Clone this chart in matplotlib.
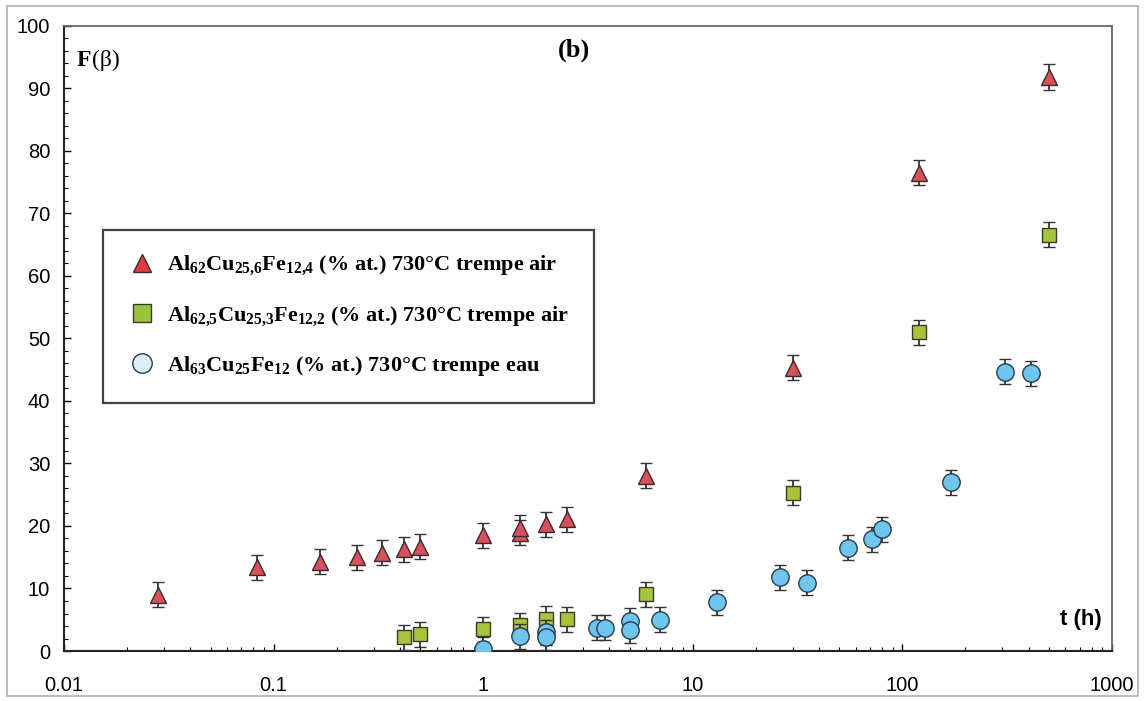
import matplotlib
matplotlib.use("Agg")
import matplotlib.pyplot as plt
from matplotlib.lines import Line2D
from matplotlib.patches import Rectangle
from matplotlib.ticker import FixedLocator, MultipleLocator, LogLocator, NullFormatter

plt.rcParams['font.family'] = ['Liberation Sans', 'DejaVu Sans']
plt.rcParams['mathtext.fontset'] = 'custom'
plt.rcParams['mathtext.rm'] = 'Liberation Serif:bold'
plt.rcParams['mathtext.it'] = 'Liberation Serif:bold'
plt.rcParams['mathtext.bf'] = 'Liberation Serif:bold'

# Al62Cu25.6Fe12.4, air quench
t_tri = [0.028, 0.083, 0.167, 0.25, 0.33, 0.42, 0.5, 1.0, 1.5, 1.5, 2.0, 2.5, 6.0, 30, 120, 500]
f_tri = [9.0, 13.4, 14.3, 15.0, 15.7, 16.3, 16.7, 18.5, 18.9, 19.7, 20.3, 21.1, 28.0, 45.3, 76.5, 91.8]
e_tri = [2.0] * len(t_tri)

# Al62.5Cu25.3Fe12.2, air quench
t_sq = [0.42, 0.5, 1.0, 1.5, 2.0, 2.5, 6.0, 30, 120, 500]
f_sq = [2.2, 2.7, 3.5, 4.1, 5.2, 5.1, 9.1, 25.3, 51.0, 66.6]
e_sq = [2.0] * len(t_sq)

# Al63Cu25Fe12, water quench
t_ci = [1.0, 1.5, 2.0, 2.0, 3.5, 3.8, 5.0, 5.0, 7.0, 13, 26, 35, 55, 72, 80, 170, 310, 410]
f_ci = [0.3, 2.4, 3.0, 2.2, 3.7, 3.7, 4.8, 3.3, 5.0, 7.8, 11.8, 10.9, 16.5, 17.9, 19.5, 27.0, 44.7, 44.4]
e_ci = [2.0] * len(t_ci)

labels = [r'Al$_{62}$Cu$_{25{,}6}$Fe$_{12{,}4}$ (% at.) 730°C trempe air',
          r'Al$_{62{,}5}$Cu$_{25{,}3}$Fe$_{12{,}2}$ (% at.) 730°C trempe air',
          r'Al$_{63}$Cu$_{25}$Fe$_{12}$ (% at.) 730°C trempe eau']
x_ticks = [0.01, 0.1, 1, 10, 100, 1000]
x_ticklabels = ['0.01', '0.1', '1', '10', '100', '1000']

fig = plt.figure(figsize=(11.44, 7.01), dpi=100)
ax = fig.add_axes([0.056, 0.0713, 0.916, 0.892])

fig.patches.append(Rectangle((0.006, 0.007), 0.989, 0.985, transform=fig.transFigure,
                             fill=False, edgecolor='#b0b0b0', linewidth=1.2))

tri_col = '#d8505c'
sq_col = '#a8c43a'
ci_col = '#6ec6ee'

ax.errorbar(t_tri, f_tri, yerr=e_tri, fmt='^', ms=11, mfc=tri_col, mec='#3a2a2a', mew=1.0,
            ecolor='#333333', elinewidth=1.3, capsize=4.5, capthick=1.3, zorder=3)
ax.errorbar(t_sq, f_sq, yerr=e_sq, fmt='s', ms=10, mfc=sq_col, mec='#3a3a2a', mew=1.0,
            ecolor='#333333', elinewidth=1.3, capsize=4.5, capthick=1.3, zorder=3)
ax.errorbar(t_ci, f_ci, yerr=e_ci, fmt='o', ms=12.5, mfc=ci_col, mec='#2a3a4a', mew=1.0,
            ecolor='#333333', elinewidth=1.3, capsize=4.5, capthick=1.3, zorder=4)

ax.set_xscale('log')
ax.set_xlim(0.01, 1000)
ax.set_ylim(0, 100)
ax.xaxis.set_major_locator(FixedLocator(x_ticks))
ax.set_xticklabels(x_ticklabels)
ax.xaxis.set_minor_locator(LogLocator(base=10, subs=range(2, 10)))
ax.xaxis.set_minor_formatter(NullFormatter())
ax.yaxis.set_major_locator(MultipleLocator(10))
ax.yaxis.set_minor_locator(MultipleLocator(2))
ax.tick_params(which='both', direction='in', labelsize=14.5)
ax.tick_params(which='major', length=5, width=1)
ax.tick_params(which='minor', length=3, width=0.8)
ax.tick_params(axis='x', pad=18)
ax.tick_params(axis='y', pad=10)
for s in ['left', 'bottom']:
    ax.spines[s].set_color('#222222')
    ax.spines[s].set_linewidth(1.5)
for s in ['top', 'right']:
    ax.spines[s].set_color('#666666')
    ax.spines[s].set_linewidth(1.3)

ax.text(0.012, 0.945, 'F', transform=ax.transAxes, fontsize=17, fontweight='bold',
        family='Liberation Serif', va='center')
ax.text(0.027, 0.945, '(β)', transform=ax.transAxes, fontsize=17,
        family='Liberation Serif', va='center')
ax.text(0.487, 0.96, '(b)', transform=ax.transAxes, fontsize=19, fontweight='bold',
        family='Liberation Serif', va='center', ha='center')
ax.text(0.99, 0.05, 't (h)', transform=ax.transAxes, fontsize=16, fontweight='bold',
        va='center', ha='right')

handles = [Line2D([], [], ls='none', marker='^', ms=13, mfc='#e03a44', mec='#3a2a2a'),
           Line2D([], [], ls='none', marker='s', ms=13, mfc='#98c43a', mec='#3a3a2a'),
           Line2D([], [], ls='none', marker='o', ms=14, mfc='#dcf0fa', mec='#2a3a4a')]
leg = ax.legend(handles, labels, loc='upper left', bbox_to_anchor=(0.037, 0.674),
                frameon=True, fancybox=False, fontsize=16, handletextpad=0.5,
                labelspacing=1.2, borderpad=1.1, handlelength=1.3, borderaxespad=0)
leg.get_frame().set_edgecolor('#111111')
leg.get_frame().set_linewidth(1.6)
for txt in leg.get_texts():
    txt.set_family('Liberation Serif')
    txt.set_fontweight('bold')

fig.savefig('out.png', dpi=100)
